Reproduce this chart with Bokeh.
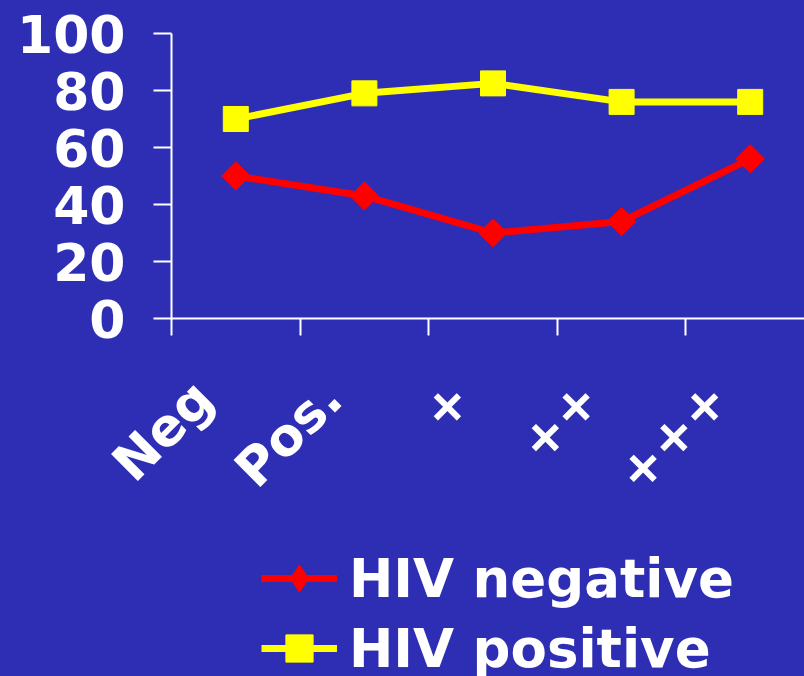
import math
from bokeh.plotting import figure
from bokeh.models import (Range1d, FixedTicker, ColumnDataSource, LabelSet, Legend,
                          GlobalInlineStyleSheet)
from bokeh.core.properties import value
from bokeh.embed import file_html
from bokeh.resources import INLINE

# ---- data ----
categories = ["Neg", "Pos.", "+", "++", "+++"]
hiv_negative = [50, 43, 30, 34, 56]
hiv_positive = [70, 79, 82.5, 76, 76]
y_ticks = [0, 20, 40, 60, 80, 100]
series_names = ["HIV negative", "HIV positive"]

BG = "#2E2EB4"
FONT = "DejaVu Sans"

W, H = 804, 676
X0_PX, CAT_PX = 171, 128.6      # page x of category axis start, px per category
Y0_PX, UNIT_PX = 318, 2.85      # page y of value 0, px per unit

xs = [i + 0.5 for i in range(len(categories))]

p = figure(width=W, height=H, output_backend="svg", toolbar_location=None,
           x_range=Range1d(-X0_PX / CAT_PX, (W - X0_PX) / CAT_PX),
           y_range=Range1d(-(H - Y0_PX) / UNIT_PX, Y0_PX / UNIT_PX),
           min_border=0, min_border_left=0, min_border_right=0,
           min_border_top=0, min_border_bottom=0)
p.stylesheets = [GlobalInlineStyleSheet(css=f"body {{ background-color: {BG}; }}")]
p.background_fill_color = BG
p.border_fill_color = BG
p.outline_line_color = None
p.grid.visible = False

# y axis
ya = p.yaxis[0]
ya.fixed_location = 0
ya.bounds = (0, 100)
ya.ticker = FixedTicker(ticks=y_ticks)
ya.axis_line_color = "white"
ya.axis_line_width = 2
ya.major_tick_line_color = "white"
ya.major_tick_line_width = 2
ya.major_tick_out = 18
ya.major_tick_in = 0
ya.minor_tick_line_color = None
ya.major_label_text_color = "white"
ya.major_label_text_font = FONT
ya.major_label_text_font_style = "bold"
ya.major_label_text_font_size = "52px"
ya.major_label_standoff = 28

# x axis (ticks at category boundaries, labels drawn separately)
xa = p.xaxis[0]
xa.fixed_location = 0
xa.bounds = (0, (W - X0_PX) / CAT_PX)
xa.ticker = FixedTicker(ticks=list(range(len(categories))))
xa.axis_line_color = "white"
xa.axis_line_width = 2
xa.major_tick_line_color = "white"
xa.major_tick_line_width = 2
xa.major_tick_out = 17
xa.major_tick_in = 0
xa.minor_tick_line_color = None
xa.major_label_text_font_size = "0px"
xa.major_label_text_color = None

# category labels rotated 45 degrees
lab_src = ColumnDataSource(dict(x=xs, y=[0] * len(xs), text=categories))
p.add_layout(LabelSet(x="x", y="y", text="text", source=lab_src,
                      x_offset=-32, y_offset=-71, angle=math.pi / 4,
                      text_align="right", text_baseline="middle",
                      text_color="white", text_font=value(FONT),
                      text_font_style="bold", text_font_size="52px"))

# series
src = ColumnDataSource(dict(x=xs, neg=hiv_negative, pos=hiv_positive))
r1 = p.line("x", "neg", source=src, line_color="#FF0000", line_width=7)
r2_leg = p.scatter("x", "neg", source=src, marker="diamond", size=20,
                   fill_color="#FF0000", line_color="#FF0000")
r2 = p.scatter("x", "neg", source=src, marker="square", angle=math.pi / 4, size=20,
               fill_color="#FF0000", line_color="#FF0000")
r3 = p.line("x", "pos", source=src, line_color="#FFFF00", line_width=7)
r4 = p.scatter("x", "pos", source=src, marker="square", size=25,
               fill_color="#FFFF00", line_color="#FFFF00")

legend = Legend(items=[(series_names[0], [r1, r2_leg]), (series_names[1], [r3, r4])],
                location=(261, -6), orientation="vertical",
                glyph_width=76, glyph_height=68, label_height=60, spacing=2,
                label_standoff=12, padding=0, margin=0,
                border_line_color=None, background_fill_alpha=0,
                label_text_color="white", label_text_font=FONT,
                label_text_font_style="bold", label_text_font_size="53px")
p.add_layout(legend, "center")

open("out.html", "w").write(file_html(p, INLINE))
